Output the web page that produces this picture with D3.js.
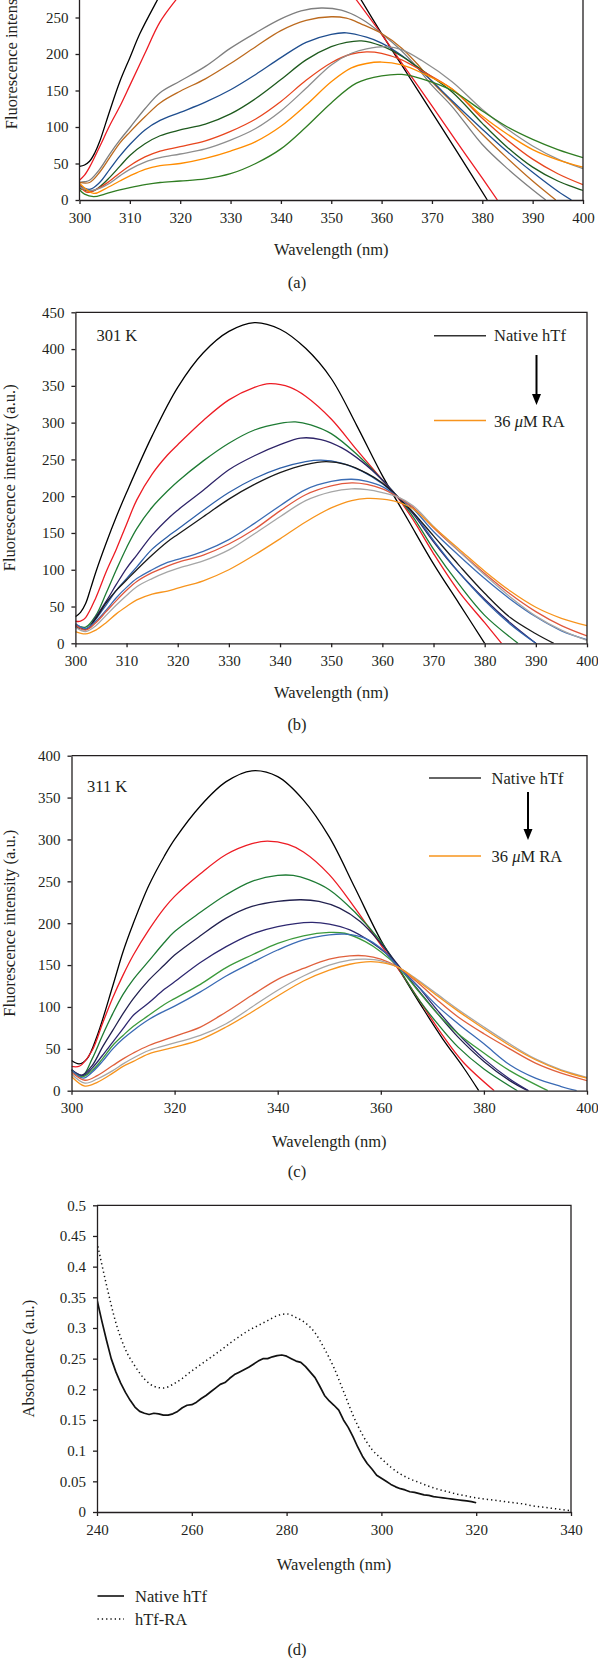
<!DOCTYPE html>
<html><head><meta charset="utf-8">
<script src="https://cdn.jsdelivr.net/npm/d3@7"></script>
<style>
html,body{margin:0;padding:0;background:#fff;}
svg{display:block;background:#fff;}
text{font-family:"Liberation Serif","Times New Roman",serif;fill:#231f20;}
</style></head><body>
<svg id="chart" width="598" height="1658"></svg>
<script>
// ---------- Panel (a) ----------
const a_black = [[300,46],[301,48],[302,53],[303,64],[304,80],[306,122],[308,162],[310,195],[312,228],[315,268],[320,330],[325,385],[330,420],[335,435],[340,425],[345,395],[350,345],[355,285],[360,228],[365,174],[370,120],[375,66],[381,0]];
const a_red = [[300,27],[301,34],[302,45],[304,73],[306,102],[308,128],[310,157],[313,201],[316,244],[320,282],[325,330],[330,362],[335,380],[340,378],[345,358],[350,320],[355,274],[360,227],[365,178],[370,129],[375,79],[380,30],[383,0]];
const a_gray = [[300,24],[301,25],[302,27],[304,42],[306,63],[308,82],[310,99],[313,125],[316,147],[320,163],[325,183],[330,208],[335,229],[340,248],[344,259],[348,263],[352,260],[356,248],[360,228],[364,204],[367,182],[370,157],[374,128],[380,76],[385,43],[390,14],[392.6,0]];
const a_brown = [[300,24],[302,24],[304,38],[306,58],[308,78],[310,93],[313,114],[316,133],[320,149],[325,166],[330,187],[335,210],[340,232],[345,246],[350,251],[353,249],[356,241],[360,228],[364,208],[367,187],[370,162],[374,134],[380,90],[385,57],[390,26],[394.6,0]];
const a_blue = [[300,20],[302,14.5],[304,24],[306,42],[308,60],[310,76],[313,96],[316,109],[320,120],[325,134],[330,151],[335,172],[340,195],[345,216],[350,227],[353,229],[357,223],[360,215],[364,198],[367,182],[370,163],[374,136],[380,97],[385,66],[390,38],[395,12],[397.7,0]];
const a_dkgreen = [[300,16],[302.5,12],[304,18],[306,31],[308,46],[310,61],[313,77],[316,88],[320,96],[325,104],[330,118],[335,139],[340,165],[345,192],[350,210],[353,216],[356,218],[360,211],[364,197],[368,178],[374,148],[380,105],[385,72],[390,45],[395,26],[400,13]];
const a_redorange = [[300,20],[301.5,10.5],[304,17],[306,26],[308,37],[310,47],[313,59],[316,67],[320,73],[325,81],[330,94],[335,111],[340,135],[345,164],[350,188],[354,200],[357,203],[360,201],[364,192],[368,177],[374,152],[380,112],[385,82],[390,56],[395,36],[400,21]];
const a_gray2 = [[300,18],[302,13],[304,16],[306,23],[308,33],[310,42],[313,52],[316,58],[320,63],[325,70],[330,82],[335,98],[340,122],[345,153],[350,185],[354,201],[357,207],[361,210],[364,206],[368,191],[374,162],[380,124],[385,97],[390,74],[395,56],[400,43]];
const a_orange = [[300,23],[302.8,9],[305,15],[308,26],[310,33],[313,42],[316,47],[320,50],[325,57],[330,67],[335,80],[340,101],[345,130],[350,162],[354,181],[357,187],[360,189],[364,185],[368,174],[374,152],[380,115],[385,90],[390,69],[395,55],[400,45]];
const a_green = [[300,14],[301,8],[302.8,4.6],[305,8],[308,14],[310,17],[313,21],[316,24],[320,26],[325,29],[330,36],[335,50],[340,70],[345,100],[350,133],[355,160],[360,170],[364,172],[368,166],[374,150],[380,122],[385,100],[390,83],[395,69],[400,58]];

// ---------- Panel (b) 301 K ----------
const b_black = [[300,36],[301,42],[302,54],[303,75],[304,97],[306,136],[308,172],[310,205],[315,282],[320,348],[325,395],[330,424],[335,436],[340,427],[345,401],[350,360],[355,296],[360,228],[365,168],[370,108],[375,54],[380,0]];
const b_red = [[300,30],[301,30],[302,35],[304,62],[306,97],[308,128],[310,162],[312,195],[315,230],[318,256],[320,270],[325,303],[330,331],[335,348],[338,353],[342,348],[345,336],[350,305],[355,263],[360,222],[363,198],[366,168],[370,122],[375,70],[380,28],[383.3,0]];
const b_green = [[300,25],[302,22],[304,38],[306,68],[308,100],[310,130],[312,156],[315,185],[318,207],[320,220],[325,248],[330,272],[335,290],[340,299],[343,301],[346,297],[350,285],[355,257],[360,222],[363,199],[366,172],[370,128],[375,80],[380,38],[386.5,0]];
const b_purple = [[300,23],[302.3,20],[304,36],[306,57],[308,80],[310,102],[312,120],[315,147],[318.5,172],[320,181],[325,208],[330,236],[335,255],[340,270],[344,279],[348,277],[352,266],[356,247],[360,222],[363,199],[366,176],[370,138],[375,96],[380,60],[385,28],[390,0]];
const b_blue = [[300,25],[302.3,20],[304,33],[306,52],[308,72],[310,88],[312,104],[315,128],[318,145],[320,155],[325,181],[330,205],[335,224],[340,238],[345,247],[348,249],[352,245],[356,234],[360,217],[363,199],[366,178],[370,140],[375,96],[380,58],[385,26],[390,0]];
const b_black2 = [[300,22],[302.3,20],[304,34],[306,55],[308,72],[310,86],[312,100],[315,120],[318,138],[320,148],[325,172],[330,196],[335,216],[340,232],[345,243],[349,247],[353,243],[357,231],[360,218],[363,199],[366,178],[370,146],[375,106],[380,68],[385,35],[390,13],[393.5,0]];
const b_blue2 = [[300,27],[302,20],[304,30],[306,45],[308,62],[310,76],[312,88],[315,100],[318,110],[320,114],[325,125],[330,141],[335,163],[340,187],[345,209],[350,220],[354,223],[357,220],[360,213],[363,199],[366,183],[370,152],[375,119],[380,88],[385,60],[390,36],[395,17],[400,5]];
const b_redorange = [[300,25],[302,18],[304,28],[306,43],[308,58],[310,72],[312,84],[315,96],[318,105],[320,110],[325,120],[330,135],[335,155],[340,180],[345,202],[350,214],[354,218],[357,216],[360,210],[363,199],[366,185],[370,157],[375,125],[380,95],[385,67],[390,43],[395,24],[400,10]];
const b_gray = [[300,22],[302,16],[304,24],[306,38],[308,52],[310,65],[312,77],[315,88],[318,97],[320,102],[325,112],[330,127],[335,149],[340,172],[345,194],[350,206],[354,210],[357,209],[360,205],[363,199],[366,187],[370,159],[375,125],[380,93],[385,63],[390,37],[395,18],[400,4]];
const b_orange = [[300,16],[302,12.7],[304,18],[306,28],[308,40],[310,50],[312,59],[315,67],[318,71],[320,75],[325,85],[330,100],[335,120],[340,142],[345,165],[350,184],[354,194],[357,197],[360,196],[363,192],[366,183],[370,158],[375,128],[380,98],[385,71],[390,49],[395,34],[400,24]];

// ---------- Panel (c) 311 K ----------
const c_black = [[300,36],[301.5,32],[303,38],[305,66],[308,125],[310,166],[312,200],[315,245],[318,280],[320,300],[325,340],[330,369],[335,382],[340,375],[345,347],[350,303],[355,242],[360,180],[364,140],[368,100],[372,62],[376,28],[379,0]];
const c_red = [[300,29],[301.6,29.5],[304,48],[306,80],[308,111],[310,138],[312,162],[315,192],[318,218],[320,232],[325,259],[330,282],[335,295],[338,298],[342,294],[345,285],[350,258],[355,218],[360,174],[364,140],[368,103],[372,66],[376,34],[382,0]];
const c_green = [[300,25],[302,17],[304,38],[306,66],[308,92],[310,115],[312,133],[315,155],[318,177],[320,190],[325,213],[330,234],[335,250],[340,257],[343,257],[346,252],[350,240],[355,213],[360,178],[363.5,146],[367,112],[371,80],[375,52],[380,26],[386.5,0]];
const c_navy = [[300,25],[302,18.5],[304,30],[306,52],[308,72],[310,92],[312,110],[315,132],[318,150],[320,162],[325,185],[330,206],[335,220],[340,226],[344.5,228],[348,226],[352,218],[356,202],[360,176],[363.5,149],[367,122],[371,92],[375,64],[380,35],[385,12],[388.5,0]];
const c_purple = [[300,25],[302.3,18],[304,27],[306,42],[308,58],[310,74],[312,90],[315,105],[318,121],[320,130],[325,153],[330,172],[335,187],[340,196],[346.5,201],[350,199],[354,192],[358,178],[361,164],[363.5,148],[367,126],[371,96],[375,68],[380,38],[385,14],[388.7,0]];
const c_green2 = [[300,24],[302,16.5],[304,24],[306,38],[308,54],[310,66],[312,77],[315,90],[318,103],[320,110],[325,127],[330,147],[335,162],[340,176],[345,185],[350,189],[353,188],[357,178],[360,166],[363.5,147],[367,121],[371,92],[375,68],[380,45],[385,24],[392.4,0]];
const c_blue = [[300,24],[302.3,15],[304,22],[306,35],[308,50],[310,62],[312,72],[315,85],[318,95],[320,101],[325,118],[330,137],[335,153],[340,168],[345,180],[350,186],[353,187],[357,182],[360,170],[363.5,147],[367,126],[371,101],[375,80],[380,56],[385,31],[390,15],[395,5],[398,0]];
const c_redorange = [[300,22],[302.6,12.5],[305,18],[308,30],[310,38],[312,45],[315,54],[320,65],[325,76],[330,94],[335,114],[340,133],[345,146],[350,157],[354,161],[357,161],[360,157],[363.5,147],[367,130],[371,108],[375,88],[380,68],[385,50],[390,33],[395,21],[400,12]];
const c_gray = [[300,20],[302.6,9],[305,14],[308,24],[310,32],[312,39],[315,48],[320,57],[325,66],[330,80],[335,100],[340,120],[345,137],[350,150],[354,156],[357,157],[360,155],[363.5,147],[367,133],[371,115],[375,97],[380,76],[385,56],[390,38],[395,25],[400,16]];
const c_orange = [[300,17],[302.6,5.5],[305,10],[308,21],[310,29],[312,35],[315,44],[320,52],[325,61],[330,76],[335,94],[340,113],[345,131],[350,144],[354,151],[358,154],[361,152],[363.5,147],[367,132],[371,113],[375,95],[380,74],[385,54],[390,37],[395,24],[400,15]];

// ---------- Panel (d) absorbance ----------
const d_nativeNm = d3.range(240, 321, 1);
const d_native = [0.346,0.312,0.280,0.250,0.228,0.210,0.195,0.182,0.171,0.164,0.161,0.159,0.161,0.160,0.158,0.158,0.160,0.164,0.170,0.174,0.175,0.179,0.185,0.190,0.196,0.202,0.208,0.211,0.218,0.224,0.228,0.232,0.236,0.241,0.246,0.250,0.250,0.253,0.255,0.256,0.254,0.250,0.246,0.244,0.237,0.228,0.219,0.205,0.190,0.181,0.174,0.166,0.150,0.138,0.123,0.106,0.091,0.079,0.070,0.060,0.055,0.050,0.045,0.041,0.038,0.036,0.033,0.032,0.030,0.028,0.027,0.025,0.024,0.023,0.022,0.021,0.020,0.019,0.018,0.017,0.015];
const d_raNm = d3.range(240, 341, 2);
const d_ra = [0.440,0.370,0.308,0.265,0.238,0.217,0.205,0.202,0.208,0.218,0.230,0.241,0.252,0.263,0.275,0.286,0.296,0.304,0.312,0.320,0.323,0.317,0.308,0.292,0.266,0.235,0.197,0.158,0.126,0.102,0.087,0.073,0.062,0.054,0.048,0.042,0.037,0.033,0.029,0.026,0.023,0.021,0.019,0.017,0.015,0.013,0.010,0.008,0.006,0.004,0.002];

// ---------- Ticks & labels ----------
const a_yTicks = [0,50,100,150,200,250];
const b_yTicks = [0,50,100,150,200,250,300,350,400,450];
const c_yTicks = [0,50,100,150,200,250,300,350,400];
const ab_xTicks = [300,310,320,330,340,350,360,370,380,390,400];
const c_xTicks = [300,320,340,360,380,400];
const d_xTicks = [240,260,280,300,320,340];
const d_yTicks = [0,0.05,0.1,0.15,0.2,0.25,0.3,0.35,0.4,0.45,0.5];
const d_yLabels = ["0","0.05","0.1","0.15","0.2","0.25","0.3","0.35","0.4","0.45","0.5"];

const svg = d3.select("#chart");
const FONT = '"Liberation Serif","Times New Roman",serif';
const SMOOTH = d3.curveCatmullRom.alpha(0.5);

function drawPanel(p) {
  const x = d3.scaleLinear().domain(p.xDomain).range([p.left, p.right]);
  const y = d3.scaleLinear().domain(p.yDomain).range([p.bottom, p.top]);
  const g = svg.append("g");
  const clipId = "clip-" + p.id;
  svg.append("clipPath").attr("id", clipId).append("rect")
    .attr("x", p.left).attr("y", p.top).attr("width", p.right - p.left).attr("height", p.bottom - p.top);
  const lg = g.append("g").attr("clip-path", `url(#${clipId})`);
  p.series.forEach(s => {
    const line = d3.line().x(d => x(d[0])).y(d => y(d[1])).curve(s.curve || SMOOTH);
    lg.append("path").attr("d", line(s.data)).attr("fill", "none")
      .attr("stroke", s.color).attr("stroke-width", s.width || 1.3)
      .attr("stroke-linejoin", "round")
      .attr("stroke-dasharray", s.dash || null)
      .attr("stroke-linecap", s.cap || "butt");
  });
  g.append("path").attr("d", `M${p.left},${p.top}H${p.right}V${p.bottom}`)
    .attr("fill", "none").attr("stroke", "#231f20").attr("stroke-width", 1.3);
  const xa = g.append("g").attr("transform", `translate(0,${p.bottom})`)
    .call(d3.axisBottom(x).tickValues(p.xTicks).tickFormat(d3.format("d")).tickSize(4).tickSizeOuter(0).tickPadding(8));
  const ya = g.append("g").attr("transform", `translate(${p.left},0)`)
    .call(d3.axisLeft(y).tickValues(p.yTicks).tickFormat((d, i) => p.yLabels ? p.yLabels[i] : d).tickSize(4).tickSizeOuter(0).tickPadding(7));
  if (p.top < 0) {
    ya.select(".domain").attr("d", `M0,${p.bottom}V${p.top}`);
  }
  [xa, ya].forEach(a => {
    a.selectAll("path,line").attr("stroke", "#231f20").attr("stroke-width", 1.3);
    a.selectAll("text").attr("font-family", FONT).attr("font-size", 15).attr("fill", "#231f20");
  });
  g.append("text").attr("x", (p.left + p.right) / 2).attr("y", p.xTitleY)
    .attr("text-anchor", "middle").attr("font-size", 16.5).text("Wavelength (nm)");
  g.append("text").attr("transform", `translate(${p.yTitleX},${(p.top + p.bottom) / 2}) rotate(-90)`)
    .attr("text-anchor", "middle").attr("font-size", 16.5).text(p.yTitle);
  g.append("text").attr("x", 297).attr("y", p.labelY).attr("text-anchor", "middle")
    .attr("font-size", 16.5).text(p.label);
  return {x, y, g};
}

function arrowLegend(g, lx1, lx2, yTop, yBot, tx, ax, ay1, ay2, tempText, tempX, tempY) {
  g.append("line").attr("x1", lx1).attr("x2", lx2).attr("y1", yTop).attr("y2", yTop)
    .attr("stroke", "#333").attr("stroke-width", 1.5);
  g.append("text").attr("x", tx).attr("y", yTop + 5.5).attr("font-size", 16.5).text("Native hTf");
  g.append("line").attr("x1", ax).attr("x2", ax).attr("y1", ay1).attr("y2", ay2 - 9)
    .attr("stroke", "#000").attr("stroke-width", 2);
  g.append("path").attr("d", `M${ax - 4.5},${ay2 - 11}L${ax + 4.5},${ay2 - 11}L${ax},${ay2}Z`).attr("fill", "#000");
  g.append("line").attr("x1", lx1).attr("x2", lx2).attr("y1", yBot).attr("y2", yBot)
    .attr("stroke", "#F7941D").attr("stroke-width", 1.5);
  const t = g.append("text").attr("x", tx).attr("y", yBot + 6).attr("font-size", 16.5);
  t.append("tspan").text("36 ");
  t.append("tspan").attr("font-style", "italic").text("μ");
  t.append("tspan").text("M RA");
  g.append("text").attr("x", tempX).attr("y", tempY).attr("font-size", 16.5).text(tempText);
}

// Panel (a)
drawPanel({
  id: "a", xDomain: [300, 400], yDomain: [0, 450], left: 79.5, right: 583, top: -128.5, bottom: 200,
  xTicks: ab_xTicks, yTicks: a_yTicks, xTitleY: 255, yTitleX: 16.5, labelY: 288,
  yTitle: "Fluorescence intensity (a.u.)", label: "(a)",
  series: [
    {data: a_black, color: "#000000"},
    {data: a_red, color: "#ED1C24"},
    {data: a_gray, color: "#7F7F7F"},
    {data: a_brown, color: "#BC6A1E"},
    {data: a_blue, color: "#1F4E8F"},
    {data: a_dkgreen, color: "#1E5A1E"},
    {data: a_redorange, color: "#E8461E"},
    {data: a_gray2, color: "#8E8E8E"},
    {data: a_orange, color: "#FF8C00"},
    {data: a_green, color: "#2F7D22"}
  ]
});

// Panel (b)
const pb = drawPanel({
  id: "b", xDomain: [300, 400], yDomain: [0, 450], left: 75.4, right: 587, top: 312.3, bottom: 643.3,
  xTicks: ab_xTicks, yTicks: b_yTicks, xTitleY: 698, yTitleX: 15, labelY: 730,
  yTitle: "Fluorescence intensity (a.u.)", label: "(b)",
  series: [
    {data: b_black, color: "#000000"},
    {data: b_red, color: "#ED1C24"},
    {data: b_green, color: "#1E7B34"},
    {data: b_purple, color: "#2E2468"},
    {data: b_blue, color: "#2D5FA8"},
    {data: b_black2, color: "#1A1A1A"},
    {data: b_blue2, color: "#3C6DB4"},
    {data: b_redorange, color: "#E0573D"},
    {data: b_gray, color: "#A6A6A6"},
    {data: b_orange, color: "#F7941D"}
  ]
});
arrowLegend(pb.g, 434, 486, 335.7, 420.5, 494, 536.5, 355, 405, "301 K", 96.4, 340.5);

// Panel (c)
const pc = drawPanel({
  id: "c", xDomain: [300, 400], yDomain: [0, 400], left: 71.5, right: 587, top: 755.7, bottom: 1090.7,
  xTicks: c_xTicks, yTicks: c_yTicks, xTitleY: 1147, yTitleX: 14.6, labelY: 1177,
  yTitle: "Fluorescence intensity (a.u.)", label: "(c)",
  series: [
    {data: c_black, color: "#000000"},
    {data: c_red, color: "#ED1C24"},
    {data: c_green, color: "#1E7B34"},
    {data: c_navy, color: "#22214F"},
    {data: c_purple, color: "#2E2870"},
    {data: c_green2, color: "#3C9A3C"},
    {data: c_blue, color: "#3A6AB4"},
    {data: c_redorange, color: "#E0603C"},
    {data: c_gray, color: "#A6A6A6"},
    {data: c_orange, color: "#F7941D"}
  ]
});
arrowLegend(pc.g, 429, 481, 778, 856, 491.6, 528, 792, 840, "311 K", 87, 791.5);

// Panel (d)
const pd = drawPanel({
  id: "d", xDomain: [240, 340], yDomain: [0, 0.5], left: 97, right: 571, top: 1205.3, bottom: 1512,
  xTicks: d_xTicks, yTicks: d_yTicks, yLabels: d_yLabels, xTitleY: 1569.5, yTitleX: 34, labelY: 1655,
  yTitle: "Absorbance (a.u.)", label: "(d)",
  series: [
    {data: d_nativeNm.map((n, i) => [n, d_native[i]]), color: "#111", width: 1.7, curve: d3.curveLinear},
    {data: d_raNm.map((n, i) => [n, d_ra[i]]), color: "#111", width: 1.5, dash: "1.3,3", curve: d3.curveMonotoneX}
  ]
});
pd.g.append("line").attr("x1", 97.5).attr("x2", 124).attr("y1", 1596).attr("y2", 1596)
  .attr("stroke", "#111").attr("stroke-width", 1.6);
pd.g.append("text").attr("x", 135).attr("y", 1601.5).attr("font-size", 16.5).text("Native hTf");
pd.g.append("line").attr("x1", 97.5).attr("x2", 124).attr("y1", 1619).attr("y2", 1619)
  .attr("stroke", "#111").attr("stroke-width", 1.4).attr("stroke-dasharray", "1.3,3");
pd.g.append("text").attr("x", 135).attr("y", 1624.5).attr("font-size", 16.5).text("hTf-RA");
</script>
</body></html>
